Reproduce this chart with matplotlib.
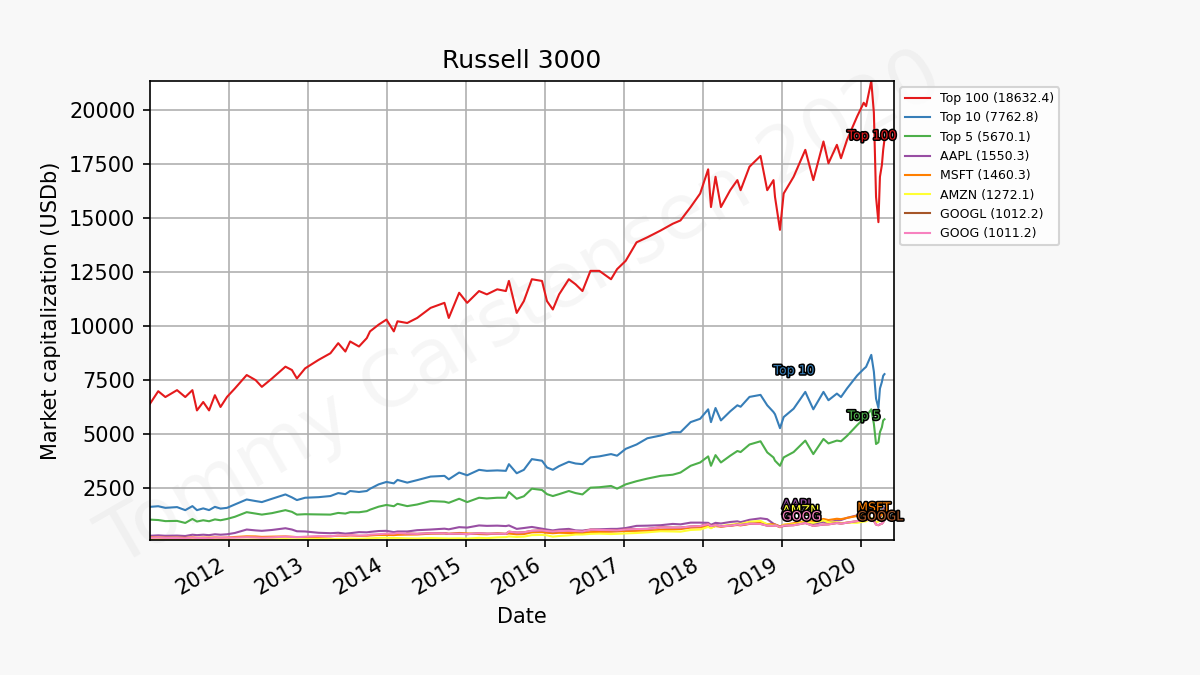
import matplotlib
matplotlib.use('Agg')
import matplotlib.pyplot as plt
import matplotlib.dates as mdates
import matplotlib.patheffects as pe
import numpy as np
import pandas as pd

nan = np.nan

dates = ['2011-01-03', '2011-02-10', '2011-03-15', '2011-05-08', '2011-06-15', '2011-07-18',
         '2011-08-08', '2011-09-06', '2011-10-03', '2011-10-30', '2011-11-25', '2011-12-25',
         '2012-01-30', '2012-03-25', '2012-05-05', '2012-06-03', '2012-07-20', '2012-09-20',
         '2012-10-20', '2012-11-12', '2012-12-20', '2013-02-20', '2013-04-16', '2013-05-22',
         '2013-06-24', '2013-07-16', '2013-08-26', '2013-10-01', '2013-10-16', '2013-11-25',
         '2013-12-31', '2014-02-03', '2014-02-20', '2014-04-06', '2014-05-22', '2014-07-23',
         '2014-09-25', '2014-10-15', '2014-12-02', '2015-01-08', '2015-03-04', '2015-04-09',
         '2015-05-27', '2015-07-06', '2015-07-20', '2015-08-25', '2015-09-27', '2015-11-03',
         '2015-12-20', '2016-01-12', '2016-02-08', '2016-03-08', '2016-04-22', '2016-05-23',
         '2016-06-24', '2016-07-31', '2016-09-10', '2016-11-03', '2016-12-01', '2017-01-10',
         '2017-03-01', '2017-04-20', '2017-06-20', '2017-08-15', '2017-09-20', '2017-11-06',
         '2017-12-20', '2018-01-26', '2018-02-08', '2018-03-01', '2018-03-26', '2018-05-08',
         '2018-06-10', '2018-06-25', '2018-08-05', '2018-09-25', '2018-10-26', '2018-11-24',
         '2018-12-01', '2018-12-24', '2019-01-10', '2019-02-25', '2019-04-20', '2019-05-27',
         '2019-07-13', '2019-08-05', '2019-09-13', '2019-10-02', '2019-10-30', '2019-12-16',
         '2020-01-15', '2020-01-26', '2020-02-19', '2020-03-02', '2020-03-12', '2020-03-23',
         '2020-03-30', '2020-04-08', '2020-04-14', '2020-04-20']

top100 = [6390, 6970, 6700, 7020, 6700, 7020, 6080, 6470, 6080, 6785, 6240, 6706,
          7094, 7720, 7486, 7173, 7561, 8108, 7953, 7561, 8028, 8421, 8729, 9197,
          8809, 9276, 9042, 9430, 9743, 10056, 10290, 9743, 10211, 10131, 10365, 10832,
          11066, 10365, 11533, 11066, 11612, 11458, 11692, 11612, 12080, 10598, 11145, 12159,
          12080, 11145, 10757, 11458, 12159, 11926, 11612, 12547, 12547, 12159, 12627, 13014,
          13869, 14103, 14416, 14729, 14884, 15505, 16131, 17253, 15505, 16907, 15505, 16286,
          16753, 16286, 17374, 17874, 16286, 16753, 15972, 14449, 16131, 16907, 18155, 16753,
          18543, 17533, 18388, 17767, 18622, 19711, 20337, 20180, 21346, 19870, 15972, 14804,
          16907, 17454, 18155, 18632.4]

top10 = [1612, 1640, 1565, 1600, 1458, 1645, 1458, 1540, 1460, 1612, 1530, 1565,
         1720, 1953, 1880, 1832, 1986, 2187, 2050, 1925, 2033, 2060, 2112, 2250,
         2200, 2346, 2300, 2346, 2450, 2654, 2766, 2700, 2860, 2734, 2850, 3014,
         3047, 2888, 3201, 3075, 3327, 3280, 3300, 3280, 3589, 3168, 3327, 3823,
         3748, 3435, 3327, 3500, 3701, 3620, 3589, 3902, 3950, 4056, 3981, 4300,
         4500, 4790, 4916, 5070, 5070, 5538, 5692, 6131, 5538, 6192, 5617, 6038,
         6318, 6250, 6706, 6800, 6318, 6005, 5900, 5257, 5771, 6159, 6939, 6131,
         6939, 6552, 6860, 6700, 7100, 7700, 8000, 8100, 8654, 7874, 6626, 6192,
         7094, 7400, 7687, 7762.8]

top5 = [1019, 1000, 950, 960, 865, 1051, 930, 990, 944, 1030, 990, 1051,
        1150, 1365, 1300, 1252, 1320, 1458, 1380, 1252, 1270, 1260, 1252, 1330,
        1300, 1365, 1360, 1411, 1480, 1620, 1700, 1640, 1752, 1645, 1720, 1879,
        1850, 1799, 1986, 1832, 2033, 2000, 2033, 2033, 2299, 1986, 2100, 2453,
        2393, 2200, 2112, 2200, 2346, 2250, 2187, 2500, 2520, 2580, 2453, 2654,
        2800, 2921, 3047, 3100, 3201, 3514, 3668, 3949, 3514, 4009, 3668, 3981,
        4200, 4150, 4500, 4650, 4136, 3900, 3750, 3514, 3902, 4150, 4682, 4056,
        4757, 4550, 4682, 4650, 4900, 5400, 5700, 5800, 6131, 5458, 4523, 4600,
        5070, 5300, 5617, 5670.1]

aapl = [270, 290, 270, 280, 260, 320, 300, 320, 300, 340, 320, 340,
        400, 560, 520, 500, 540, 620, 560, 480, 470, 410, 390, 410,
        370, 390, 440, 430, 450, 490, 500, 440, 470, 470, 530, 560,
        600, 570, 670, 650, 750, 730, 740, 720, 750, 590, 630, 680,
        600, 560, 520, 560, 590, 520, 510, 560, 570, 590, 590, 630,
        730, 740, 760, 820, 800, 880, 880, 870, 780, 870, 840, 910,
        940, 900, 1010, 1080, 1040, 830, 800, 700, 720, 820, 930, 820,
        920, 880, 980, 1000, 1100, 1220, 1380, 1370, 1420, 1290, 1090, 980,
        1140, 1200, 1400, 1550.3]

msft = [200, 195, 185, 185, 175, 200, 180, 190, 185, 195, 185, 190,
        215, 245, 240, 220, 230, 240, 225, 210, 215, 225, 245, 275,
        265, 285, 265, 270, 285, 310, 310, 300, 315, 325, 330, 370,
        385, 360, 400, 380, 350, 340, 380, 355, 375, 340, 350, 430,
        440, 410, 390, 410, 400, 400, 390, 440, 450, 460, 470, 490,
        500, 510, 540, 560, 580, 650, 660, 720, 650, 720, 690, 740,
        770, 750, 820, 880, 810, 800, 790, 700, 780, 850, 950, 940,
        1050, 1000, 1060, 1040, 1100, 1190, 1270, 1260, 1430, 1320, 1100, 1030,
        1220, 1250, 1340, 1460.3]

amzn = [80, 82, 75, 88, 85, 95, 85, 95, 95, 100, 85, 78,
        88, 90, 100, 95, 105, 115, 105, 105, 115, 120, 120, 125,
        125, 140, 130, 145, 150, 175, 180, 165, 165, 150, 145, 165,
        150, 145, 155, 140, 175, 160, 195, 210, 240, 215, 230, 300,
        310, 290, 230, 260, 290, 330, 330, 360, 370, 350, 360, 380,
        400, 430, 480, 470, 460, 540, 560, 680, 620, 740, 720, 780,
        830, 820, 920, 960, 800, 750, 780, 660, 780, 800, 920, 870,
        980, 890, 900, 860, 880, 870, 930, 940, 1090, 990, 900, 930,
        1000, 1020, 1150, 1272.1]

googl = [nan] * 33 + [
    375, 360, 390, 385, 360, 370, 345, 390, 370, 370, 360, 460,
    420, 430, 500, 520, 490, 470, 490, 500, 490, 470, 550, 540,
    530, 520, 560, 580, 590, 660, 650, 650, 700, 720, 810, 720,
    770, 710, 740, 790, 770, 830, 820, 740, 730, 760, 680, 740,
    760, 860, 730, 790, 800, 860, 830, 880, 950, 1000, 1000, 1050,
    960, 790, 760, 800, 830, 900, 1012.2]

goog = [180, 190, 175, 165, 155, 185, 170, 170, 155, 185, 180, 190,
        185, 205, 195, 180, 195, 235, 215, 210, 225, 260, 250, 285,
        285, 295, 280, 290, 325, 345, 370, 370, 395, 370, 360, 390,
        385, 360, 370, 345, 390, 370, 370, 360, 460, 420, 430, 500,
        520, 490, 470, 490, 500, 490, 470, 550, 540, 530, 520, 560,
        580, 590, 660, 650, 650, 700, 720, 810, 720, 770, 710, 740,
        790, 770, 830, 820, 740, 730, 760, 680, 740, 760, 860, 730,
        790, 800, 860, 830, 880, 950, 1000, 1000, 1050, 960, 790, 760,
        800, 830, 900, 1011.2]

names = ['Top 100', 'Top 10', 'Top 5', 'AAPL', 'MSFT', 'AMZN', 'GOOGL', 'GOOG']
series = [top100, top10, top5, aapl, msft, amzn, googl, goog]
colors = ['#e41a1c', '#377eb8', '#4daf4a', '#984ea3', '#ff7f00', '#ffff33', '#a65628', '#f781bf']

# where the name tags sit on the chart
label_dates = ['2019-11-01', '2018-11-24', '2019-11-01', '2019-01-03', '2019-12-16', '2019-01-03', '2019-12-16', '2019-01-03']
label_values = [18800, 7920, 5820, 1700, 1560, 1430, 1150, 1150]

x_end = '2020-06-03'

dt = pd.to_datetime(dates)

fig, ax = plt.subplots(figsize=(8, 4.5), dpi=150)
fig.patch.set_facecolor('#f8f8f8')
ax.set_facecolor('white')

for name, y, c, ld, lv in zip(names, series, colors, label_dates, label_values):
    y = np.array(y, dtype=float)
    ax.plot(dt, y, color=c, lw=1, label=f'{name} ({y[-1]:.1f})')
    ax.text(pd.Timestamp(ld), lv, name, color=c, fontsize=6, ha='left', va='center',
            path_effects=[pe.withStroke(linewidth=1.5, foreground='k')])

ymin = np.nanmin([np.nanmin(np.array(s, dtype=float)) for s in series])
ymax = np.nanmax([np.nanmax(np.array(s, dtype=float)) for s in series])
ax.set_ylim(ymin, ymax)
ax.set_xlim(dt[0], pd.Timestamp(x_end))
ax.set_yticks(np.arange(2500, 20001, 2500))
ax.xaxis.set_major_locator(mdates.YearLocator())
ax.xaxis.set_major_formatter(mdates.DateFormatter('%Y'))
ax.grid(True)
ax.set_title('Russell 3000')
ax.set_xlabel('Date')
ax.set_ylabel('Market capitalization (USDb)')
fig.autofmt_xdate()
plt.subplots_adjust(left=0.125, right=0.745, bottom=0.2, top=0.88)

ax.legend(loc='upper left', bbox_to_anchor=(1.0, 1.0), fontsize=6)

ax.text(0.5, 0.5, 'Tommy Carstensen 2020', transform=ax.transAxes, fontsize=37,
        color='gray', alpha=0.07, rotation=30, ha='center', va='center',
        clip_on=False, zorder=0)

fig.savefig('out.png', dpi=150, facecolor=fig.get_facecolor())
